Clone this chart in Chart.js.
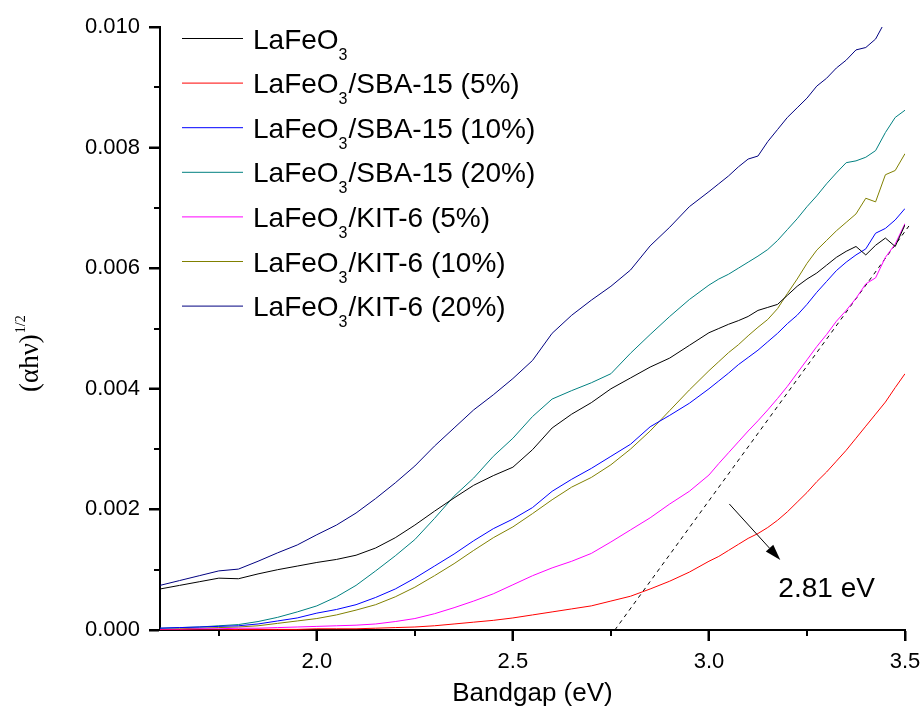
<!DOCTYPE html>
<html>
<head>
<meta charset="utf-8">
<script src="https://cdn.jsdelivr.net/npm/chart.js@4.4.1/dist/chart.umd.min.js"></script>
<style>
  body { margin: 0; background: #fff; }
  #wrap { width: 923px; height: 720px; }
</style>
</head>
<body>
<div id="wrap"><canvas id="myChart" width="923" height="720"></canvas></div>
<script>
"use strict";
// photon energy (eV), shared by every curve
let energy = [1.60, 1.65, 1.70, 1.75, 1.80, 1.85, 1.90, 1.95, 2.00, 2.05, 2.10, 2.15, 2.20, 2.25, 2.30,
  2.35, 2.40, 2.45, 2.50, 2.55, 2.60, 2.65, 2.70, 2.75, 2.80, 2.85, 2.90, 2.95, 3.00,
  3.025, 3.05, 3.075, 3.10, 3.125, 3.15, 3.175, 3.20, 3.225, 3.25, 3.275, 3.30, 3.325, 3.35,
  3.375, 3.40, 3.425, 3.45, 3.475, 3.50];

let seriesNames = [
  "LaFeO3",
  "LaFeO3/SBA-15 (5%)",
  "LaFeO3/SBA-15 (10%)",
  "LaFeO3/SBA-15 (20%)",
  "LaFeO3/KIT-6 (5%)",
  "LaFeO3/KIT-6 (10%)",
  "LaFeO3/KIT-6 (20%)",
];
let seriesColors = ["#000000", "#ff0000", "#0000ff", "#008080", "#ff00ff", "#808000", "#000080"];

let lafeo3 = [0.00068, 0.00074, 0.00080, 0.00086, 0.00085, 0.00093, 0.00100, 0.00106, 0.00112, 0.00117,
  0.00124, 0.00136, 0.00153, 0.00174, 0.00197, 0.00219, 0.00240, 0.00256, 0.00270, 0.00299, 0.00335,
  0.00358, 0.00377, 0.00400, 0.00418, 0.00436, 0.00451, 0.00472, 0.00493,
  0.00500, 0.00507, 0.00513, 0.00520, 0.00530, 0.00535, 0.00540, 0.00555, 0.00570, 0.00582, 0.00592,
  0.00605, 0.00618, 0.00628, 0.00636, 0.00622, 0.00638, 0.00650, 0.00636, 0.00672];
let sba5 = [0, 0, 0, 0, 0.00001, 0.00001, 0.00001, 0.00001, 0.00002, 0.00002, 0.00002, 0.00003, 0.00004,
  0.00005, 0.00007, 0.00010, 0.00013, 0.00016, 0.00020, 0.00025, 0.00030, 0.00035, 0.00040, 0.00048,
  0.00056, 0.00068, 0.00081, 0.00096, 0.00114,
  0.00122, 0.00132, 0.00142, 0.00152, 0.00160, 0.00170, 0.00182, 0.00196, 0.00212, 0.00228, 0.00246,
  0.00262, 0.00280, 0.00298, 0.00318, 0.00338, 0.00358, 0.00378, 0.00402, 0.00425];
let sba10 = [0.00003, 0.00004, 0.00005, 0.00006, 0.00007, 0.00010, 0.00015, 0.00020, 0.00028, 0.00034,
  0.00042, 0.00054, 0.00068, 0.00086, 0.00106, 0.00126, 0.00148, 0.00168, 0.00184, 0.00203, 0.00230,
  0.00250, 0.00268, 0.00288, 0.00308, 0.00337, 0.00356, 0.00376, 0.00400,
  0.00413, 0.00426, 0.00440, 0.00452, 0.00464, 0.00478, 0.00492, 0.00508, 0.00522, 0.00540, 0.00560,
  0.00578, 0.00596, 0.00610, 0.00622, 0.00632, 0.00658, 0.00666, 0.00680, 0.00699];
let sba20 = [0.00003, 0.00004, 0.00005, 0.00007, 0.00009, 0.00014, 0.00021, 0.00030, 0.00040, 0.00055,
  0.00074, 0.00098, 0.00123, 0.00150, 0.00185, 0.00222, 0.00252, 0.00288, 0.00318, 0.00354, 0.00383,
  0.00397, 0.00410, 0.00425, 0.00459, 0.00490, 0.00520, 0.00548, 0.00572,
  0.00582, 0.00590, 0.00600, 0.00610, 0.00620, 0.00631, 0.00646, 0.00664, 0.00682, 0.00702, 0.00720,
  0.00740, 0.00758, 0.00775, 0.00778, 0.00784, 0.00795, 0.00825, 0.00850, 0.00862];
let kit5 = [0.00001, 0.00001, 0.00002, 0.00002, 0.00003, 0.00003, 0.00004, 0.00005, 0.00006, 0.00007,
  0.00008, 0.00010, 0.00014, 0.00019, 0.00027, 0.00037, 0.00048, 0.00060, 0.00075, 0.00090, 0.00103,
  0.00114, 0.00127, 0.00146, 0.00166, 0.00186, 0.00209, 0.00230, 0.00257,
  0.00276, 0.00294, 0.00312, 0.00330, 0.00347, 0.00365, 0.00384, 0.00404, 0.00426, 0.00448, 0.00470,
  0.00490, 0.00512, 0.00530, 0.00550, 0.00574, 0.00584, 0.00618, 0.00640, 0.00674];
let kit10 = [0.00001, 0.00002, 0.00003, 0.00004, 0.00005, 0.00007, 0.00011, 0.00015, 0.00019, 0.00025,
  0.00033, 0.00042, 0.00055, 0.00071, 0.00090, 0.00110, 0.00132, 0.00153, 0.00171, 0.00193, 0.00216,
  0.00237, 0.00253, 0.00274, 0.00300, 0.00330, 0.00364, 0.00398, 0.00430,
  0.00445, 0.00460, 0.00473, 0.00488, 0.00502, 0.00515, 0.00533, 0.00558, 0.00582, 0.00608, 0.00630,
  0.00646, 0.00662, 0.00676, 0.00690, 0.00716, 0.00710, 0.00755, 0.00762, 0.00790];
let kit20 = [0.00074, 0.00082, 0.00090, 0.00098, 0.00101, 0.00114, 0.00128, 0.00141, 0.00158, 0.00174,
  0.00194, 0.00218, 0.00244, 0.00272, 0.00305, 0.00335, 0.00365, 0.00390, 0.00417, 0.00447, 0.00492,
  0.00522, 0.00547, 0.00570, 0.00597, 0.00637, 0.00668, 0.00702, 0.00727,
  0.00740, 0.00753, 0.00768, 0.00781, 0.00786, 0.00810, 0.00830, 0.00850, 0.00866, 0.00882, 0.00902,
  0.00915, 0.00932, 0.00945, 0.00962, 0.00966, 0.00980, 0.01010, null, null];
let allSeries = [lafeo3, sba5, sba10, sba20, kit5, kit10, kit20];

// tangent line used for the band gap and the arrow/label
let tangentX = [2.76, 3.51];
let tangentY = [0, 0.0067];
let arrowFrom = [3.052, 0.00209];
let arrowTo = [3.182, 0.00116];
let gapLabel = "2.81 eV";
let gapLabelAt = [3.177, 0.00055];

let xMajor = [2.0, 2.5, 3.0, 3.5];
let xMinor = [1.75, 2.25, 2.75, 3.25];
let yMajor = [0, 0.002, 0.004, 0.006, 0.008, 0.010];
let yMinor = [0.001, 0.003, 0.005, 0.007, 0.009];

const sansFont = "'Liberation Sans', Arial, sans-serif";
const serifFont = "'Liberation Serif', 'Times New Roman', serif";

let datasets = [];
for (let i = 0; i < allSeries.length; i++) {
  datasets.push({
    label: seriesNames[i],
    data: energy.map((e, k) => ({ x: e, y: allSeries[i][k] })),
    borderColor: seriesColors[i],
    borderWidth: 1,
    pointRadius: 0,
    showLine: true,
    tension: 0,
    spanGaps: false,
  });
}
datasets.push({
  label: "tangent",
  data: tangentX.map((e, k) => ({ x: e, y: tangentY[k] })),
  borderColor: "#000000",
  borderWidth: 1,
  borderDash: [4, 4],
  pointRadius: 0,
  showLine: true,
  clip: false,
});

// tick marks, legend, y title, arrow and label
let extras = {
  id: "extras",
  afterDraw(chart) {
    let ctx = chart.ctx;
    let xs = chart.scales.x;
    let ys = chart.scales.y;
    let area = chart.chartArea;
    ctx.save();
    ctx.strokeStyle = "#000";
    ctx.lineWidth = 2;
    function xTick(v, len) {
      let px = Math.round(xs.getPixelForValue(v));
      ctx.beginPath();
      ctx.moveTo(px, area.bottom);
      ctx.lineTo(px, area.bottom + len);
      ctx.stroke();
    }
    function yTick(v, len) {
      let py = Math.round(ys.getPixelForValue(v));
      ctx.beginPath();
      ctx.moveTo(area.left, py);
      ctx.lineTo(area.left - len, py);
      ctx.stroke();
    }
    xMajor.forEach((v) => xTick(v, 11));
    xMinor.forEach((v) => xTick(v, 6));
    yMajor.forEach((v) => yTick(v, 11));
    yMinor.forEach((v) => yTick(v, 6));

    // legend
    ctx.textBaseline = "alphabetic";
    ctx.textAlign = "left";
    for (let i = 0; i < seriesNames.length; i++) {
      let rowY = 38.5 + i * 44.6;
      ctx.strokeStyle = seriesColors[i];
      ctx.lineWidth = 1;
      ctx.beginPath();
      ctx.moveTo(182, rowY);
      ctx.lineTo(243, rowY);
      ctx.stroke();
      let name = seriesNames[i];
      let head = name.slice(0, 5);
      let sub = name.slice(5, 6);
      let tail = name.slice(6);
      let tx = 253;
      ctx.fillStyle = "#000";
      ctx.font = "28px " + sansFont;
      ctx.fillText(head, tx, rowY + 10);
      tx += ctx.measureText(head).width;
      ctx.font = "16px " + sansFont;
      ctx.fillText(sub, tx, rowY + 21);
      tx += ctx.measureText(sub).width + 1;
      ctx.font = "28px " + sansFont;
      ctx.fillText(tail, tx, rowY + 10);
    }

    // y axis title (alpha h nu)^1/2
    ctx.save();
    ctx.translate(38, 392);
    ctx.rotate(-Math.PI / 2);
    ctx.fillStyle = "#000";
    ctx.font = "27px " + serifFont;
    let main = "(\u03b1h\u03bd)";
    ctx.fillText(main, 0, 0);
    let w = ctx.measureText(main).width;
    ctx.font = "14px " + serifFont;
    ctx.fillText("1/2", w + 1, -13);
    ctx.restore();

    // arrow
    let x0 = xs.getPixelForValue(arrowFrom[0]);
    let y0 = ys.getPixelForValue(arrowFrom[1]);
    let x1 = xs.getPixelForValue(arrowTo[0]);
    let y1 = ys.getPixelForValue(arrowTo[1]);
    let ang = Math.atan2(y1 - y0, x1 - x0);
    let headLen = 16;
    let bx = x1 - headLen * Math.cos(ang);
    let by = y1 - headLen * Math.sin(ang);
    ctx.strokeStyle = "#000";
    ctx.lineWidth = 1;
    ctx.beginPath();
    ctx.moveTo(x0, y0);
    ctx.lineTo(bx, by);
    ctx.stroke();
    ctx.fillStyle = "#000";
    ctx.beginPath();
    ctx.moveTo(x1, y1);
    ctx.lineTo(bx + 5 * Math.sin(ang), by - 5 * Math.cos(ang));
    ctx.lineTo(bx - 5 * Math.sin(ang), by + 5 * Math.cos(ang));
    ctx.closePath();
    ctx.fill();

    ctx.font = "28px " + sansFont;
    ctx.textAlign = "left";
    ctx.fillText(gapLabel, xs.getPixelForValue(gapLabelAt[0]), ys.getPixelForValue(gapLabelAt[1]));
    ctx.restore();
  },
};

let ctx = document.getElementById("myChart").getContext("2d");
let myChart = new Chart(ctx, {
  type: "scatter",
  data: { datasets: datasets },
  plugins: [extras],
  options: {
    responsive: false,
    animation: false,
    events: [],
    layout: { padding: { top: 27, right: 18, left: 0, bottom: 0 } },
    plugins: { legend: { display: false }, tooltip: { enabled: false } },
    scales: {
      x: {
        type: "linear",
        min: 1.6,
        max: 3.5,
        afterBuildTicks: (scale) => { scale.ticks = xMajor.map((v) => ({ value: v })); },
        afterFit: (scale) => { scale.height = 90; scale.paddingLeft = 0; scale.paddingRight = 0; },
        grid: { drawOnChartArea: false, drawTicks: true, tickLength: 11, tickWidth: 2, tickColor: "#000" },
        border: { display: true, color: "#000", width: 2 },
        ticks: {
          color: "#000",
          padding: 8,
          maxRotation: 0,
          font: { family: sansFont, size: 22 },
          callback: (v) => Number(v).toFixed(1),
        },
        title: {
          display: true,
          text: "Bandgap (eV)",
          color: "#000",
          font: { family: sansFont, size: 26 },
          padding: { top: 0, bottom: 11 },
        },
      },
      y: {
        type: "linear",
        min: 0,
        max: 0.01,
        afterBuildTicks: (scale) => { scale.ticks = yMajor.map((v) => ({ value: v })); },
        afterFit: (scale) => { scale.width = 160; scale.paddingTop = 0; scale.paddingBottom = 0; },
        grid: { drawOnChartArea: false, drawTicks: true, tickLength: 11, tickWidth: 2, tickColor: "#000" },
        border: { display: true, color: "#000", width: 2 },
        ticks: {
          color: "#000",
          padding: 9,
          font: { family: sansFont, size: 22 },
          callback: (v) => Number(v).toFixed(3),
        },
      },
    },
  },
});
</script>
</body>
</html>
